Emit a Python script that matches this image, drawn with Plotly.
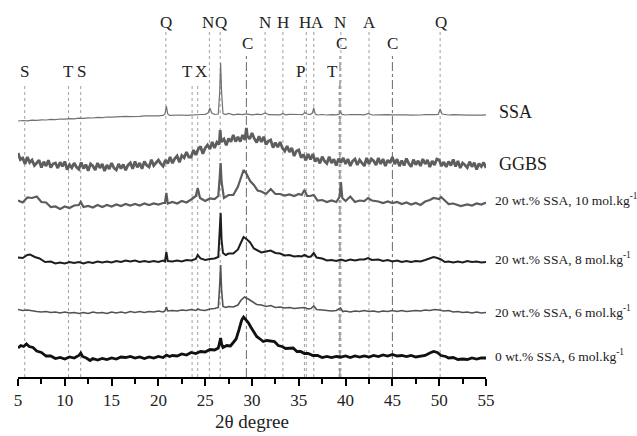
import plotly.graph_objects as go

# ---------------- data (2θ, relative intensity) ----------------
ssa = [(5,1),(5.5,1.5),(6,1.2),(6.5,1.8),(7,1.6),(7.5,2.2),(8,2.0),(8.5,2.6),(9,2.4),(9.5,3),(10,2.8),(10.5,3.4),
       (11,3.2),(11.5,3.8),(12,3.6),(12.5,4.2),(13,4.0),(13.5,4.6),(14,4.4),(14.5,5),(15,4.8),(15.5,5.3),(16,5.1),
       (16.5,5.6),(17,5.4),(17.5,5.9),(18,5.7),(18.5,6.1),(19,5.9),(19.5,6.3),(20,6.1),(20.5,6.6),(20.7,8),(20.85,16),
       (21.0,8),(21.2,6.6),(21.5,6.8),(22,6.5),(22.5,7),(23,6.7),(23.5,7.2),(24,7),(24.5,7.5),(25,7.6),(25.3,9),
       (25.5,14),(25.7,9),(26,7.5),(26.4,8),(26.55,30),(26.65,59),(26.75,30),(26.9,8.5),(27.2,7.5),(27.5,8.5),(28,7.2),
       (28.5,7.8),(29,7.4),(29.4,8.2),(30,7.2),(30.5,7.8),(31,7.3),(31.4,9),(31.8,7.3),(32.5,7.6),(33,7.2),(33.3,8.5),
       (33.6,7.2),(34,7.6),(34.5,7.2),(35,7.5),(35.4,7.4),(35.65,9.5),(35.9,8),(36.2,7.5),(36.45,9),(36.6,14),(36.75,8),
       (37,7),(37.5,7.5),(38,7.0),(38.5,7.4),(39,7.1),(39.3,7.8),(39.45,10),(39.6,7.6),(40,7),(40.5,7.5),(41,7.1),
       (41.5,7.3),(42,7.2),(42.45,8.5),(42.8,7),(43.5,7.3),(44,7),(44.5,7.4),(45,7.1),(45.5,7.3),(46,7),(46.5,7.2),
       (47,6.9),(47.5,7.3),(48,7.0),(48.5,7.3),(49,7.1),(49.5,7.4),(49.9,7.5),(50.1,13),(50.3,8),(50.7,7.2),(51,7),
       (51.5,7.3),(52,6.9),(52.5,7.1),(53,6.8),(53.5,7.0),(54,6.7),(54.5,6.9),(55,7.2)]

ggbs = [(5,19),(5.25,12.5),(5.5,14),(5.75,8),(6,15),(6.25,9.5),(6.5,12),(6.75,6.5),(7,9),(7.25,11.8),(7.5,4.5),(7.75,10.2),
        (8,6),(8.25,11.8),(8.5,4.5),(8.75,8.2),(9,9),(9.25,3.9),(9.5,9.8),(9.75,5.6),(10,10.5),(10.25,2.4),(10.5,7.3),(10.75,4.1),
        (11,9),(11.25,4.9),(11.5,2.8),(11.75,9.6),(12,3.5),(12.25,7.4),(12.5,1.3),(12.75,8.1),(13,6),(13.25,2),(13.5,9),(13.75,4),
        (14,8),(14.25,1),(14.5,7),(14.75,3),(15,9),(15.25,4),(15.5,2),(15.75,8),(16,3.5),(16.25,7.6),(16.5,1.8),(16.75,6.9),
        (17,9),(17.25,3.2),(17.5,10.5),(17.75,4.8),(18,9),(18.25,3.2),(18.5,10.5),(18.75,6.8),(19,5),(19.25,12.2),(19.5,6.5),(19.75,9.8),
        (20,12),(20.25,8.4),(20.5,5.8),(20.75,12.1),(21,8.5),(21.25,15.1),(21.5,8.8),(21.75,13.4),(22,16),(22.25,9.8),(22.5,16.5),(22.75,14.2),
        (23,20),(23.25,15),(23.5,15),(23.75,22),(24,17),(24.25,22.8),(24.5,25.5),(24.75,18.2),(25,24),(25.25,27),(25.5,23),(25.75,30),
        (26,24),(26.25,29.8),(26.5,27.5),(26.6,42),(26.7,30),(27,33),(27.25,26.8),(27.5,33.5),(27.75,30.2),
        (28,37),(28.25,30.5),(28.5,35),(28.75,30.5),(29,37),(29.25,32),(29.4,44),(29.5,36),(29.75,33),
        (30,39),(30.25,33.3),(30.5,29.5),(30.75,35.8),(31,30),(31.25,35.3),(31.5,27.5),(31.75,30.8),(32,32),(32.25,24.3),(32.5,29.5),(32.75,24.8),
        (33,30),(33.25,24),(33.5,21),(33.75,26),(34,20),(34.25,24),(34.5,16),(34.75,21),(35,22),(35.25,14.3),(35.5,17.5),(35.75,11.8),
        (36,18),(36.25,12.5),(36.5,18),(36.75,10.5),(37,14),(37.25,8.6),(37.5,15.3),(37.75,10.9),(38,8.5),(38.25,15.3),(38.5,9),(38.75,12.8),
        (39,6.5),(39.25,13.4),(39.5,9.3),(39.75,14.1),(40,8),(40.25,13),(40.5,6),(40.75,11),(41,13),(41.25,7),(41.5,12),(41.75,9),
        (42,6),(42.25,14),(42.5,8),(42.75,13),(43,11),(43.25,7),(43.5,14),(43.75,8),(44,13),(44.25,6),(44.5,12),(44.75,9),
        (45,14.9),(45.25,7.9),(45.5,12.9),(45.75,5.9),(46,11.5),(46.25,6.5),(46.5,13.5),(46.75,8.5),(47,5.3),(47.25,12.3),(47.5,7.3),(47.75,11.3),
        (48,6),(48.25,13),(48.5,8),(48.75,12),(49,5),(49.25,11),(49.5,7),(49.75,13),(50,12),(50.25,6),(50.5,10),(50.75,5),
        (51,10.5),(51.25,6.5),(51.5,12.5),(51.75,5.5),(52,11),(52.25,4),(52.5,9),(52.75,7),(53,4.3),(53.25,10.3),(53.5,5.3),(53.75,9.3),
        (54,2.5),(54.25,8.5),(54.5,5.5),(54.75,9.5),(55,4)]

ssa20_10 = [(5,11.5),(5.5,9.5),(6,14.5),(6.5,14),(7,15.5),(7.5,10),(8,9.5),(8.5,5),(9,5.5),(9.5,3),(10,5.5),(10.5,4),(11,6.5),
            (11.5,7),(11.7,10),(12,5),(12.5,6),(13,4.5),(13.5,7),(14,5),(14.5,7),(15,5.5),(15.5,7.5),(16,6),(16.5,8),(17,6.5),
            (17.5,8),(18,6.5),(18.5,8.5),(19,7),(19.5,8.5),(20,7.5),(20.5,9),(20.7,9),(20.85,19),(21.0,8.5),(21.5,10),(22,8.5),
            (22.5,11),(23,9.5),(23.5,12.5),(24.0,16),(24.2,24),(24.45,14),(25,11),(25.5,13.5),(26,13),(26.4,16),(26.55,35),
            (26.65,49),(26.75,30),(27,14),(27.5,17),(28,17),(28.5,25.5),(28.8,33),(29.1,42),(29.4,38.5),(29.8,31),(30.2,27),
            (30.6,21.5),(31,20.5),(31.5,18),(32,23),(32.5,18),(33,18),(33.5,16.5),(34,17.5),(34.5,16),(35,18),(35.3,17),(35.6,22),
            (35.9,16),(36.2,16),(36.6,17),(37,11.5),(37.5,12),(38,10),(38.5,11.5),(39,10),(39.35,15),(39.5,30),(39.65,14),(40,11),
            (40.5,15.5),(41,10),(41.5,11.5),(42,11),(42.4,14),(42.8,11.5),(43.5,10.5),(44,9),(44.5,10.5),(45,9),(45.5,10),(46,8),
            (46.5,9.5),(47,7.5),(47.5,9),(48,7),(48.5,10.5),(49,12),(49.4,14),(50,13),(50.2,15),(50.6,11.5),(51,8),(51.5,8.5),
            (52,6.5),(52.3,6),(53,7.5),(53.5,6.5),(54,8.5),(54.5,7.5),(55,9.5)]

ssa20_8 = [(5,7.5),(5.5,7),(6,10),(6.3,10.5),(6.8,8),(7.3,6.5),(7.9,3),(8.5,3.5),(9,1.5),(9.5,2.5),(10,1.5),(10.5,3),(11,2),
           (11.5,3),(12,1.5),(12.5,3),(13,2),(13.5,3.5),(14,2.5),(14.5,3.5),(15,2.5),(15.5,4),(16,3),(16.5,4.5),(17,3.5),(17.5,4.5),
           (18,3),(18.5,4),(19,3),(19.5,4),(20,3),(20.5,4.5),(20.7,3.5),(20.85,13),(21,4),(21.5,3.5),(22,4.5),(22.5,3.5),(23,5),
           (23.5,4.5),(24,6),(24.2,10),(24.5,6.5),(25,5),(25.5,6),(26,6.5),(26.4,8),(26.55,30),(26.65,52),(26.75,25),(26.9,12),
           (27.2,10),(27.5,11.5),(28,11.5),(28.5,15.5),(28.8,22),(29.1,28),(29.4,26),(29.8,22.5),(30.2,16.5),(30.6,14.5),(31,12.5),
           (31.5,13.5),(32,14.5),(32.5,12),(33,11.5),(33.5,9.5),(34,10),(34.5,8.5),(35,9),(35.3,8.5),(35.6,10),(36,8),(36.3,8.5),
           (36.6,12),(36.9,7.5),(37.5,6.5),(38,4.5),(38.5,5),(39,4),(39.5,5.5),(40,4),(40.5,5.5),(41,4.5),(41.5,5.5),(42,5.5),
           (42.4,7),(42.8,5),(43.5,5.5),(44,4),(44.5,5),(45,3.5),(45.5,4.5),(46,3),(46.5,4),(47,3),(47.5,4),(48,3.5),(48.5,5),
           (49,6.5),(49.4,8),(49.8,7),(50.2,5.5),(50.6,3),(51,3.5),(51.5,2.5),(52,3.5),(52.5,2.5),(53,4),(53.5,3),(54,3.5),
           (54.5,2.5),(55,3)]

ssa20_6 = [(5,5.5),(5.5,4.5),(6,5),(6.5,4),(7,3.5),(7.5,3),(8,3.5),(8.5,2.5),(9,3),(9.5,2),(10,3),(10.5,2),(11,2.5),(11.5,1.5),
           (12,2.5),(12.5,1.5),(13,3),(13.5,2),(14,2.5),(14.5,1.5),(15,3),(15.5,2),(16,3),(16.5,2),(17,3.5),(17.5,2.5),(18,3.5),
           (18.5,2.5),(19,3.5),(19.5,3),(20,4),(20.5,3),(20.7,4),(20.85,8),(21,4),(21.5,4.5),(22,4),(22.5,5),(23,4.5),(23.5,5.5),
           (24,4.5),(24.2,6),(24.5,5),(25,4.5),(25.5,6),(26,6.5),(26.4,7.5),(26.55,30),(26.65,50),(26.75,25),(26.9,8.5),(27.2,7.5),
           (27.5,8.5),(28,8),(28.5,10),(28.8,14.5),(29.2,18),(29.6,16),(30,13.5),(30.5,10.5),(31,10),(31.5,8.5),(32,9.5),(32.5,7.5),
           (33,8),(33.5,7),(34,7.5),(34.5,6.5),(35,7),(35.6,7.5),(36,6),(36.3,6.5),(36.6,9),(36.9,5.5),(37.5,5),(38,4.5),(38.5,4),
           (39,4.5),(39.45,7),(39.7,3.5),(40,4),(40.5,3),(41,4),(41.5,3.5),(42,4.5),(42.5,3.5),(43,4),(43.5,3),(44,4),(44.5,3.5),
           (45,4.5),(45.5,3.5),(46,4.5),(46.5,3.5),(47,4),(47.5,4.5),(48,4),(48.5,5),(49,4.5),(49.5,5.5),(50,5),(50.5,4),(51,4.5),
           (51.5,3),(52,3.5),(52.5,2.5),(53,3),(53.5,2),(54,3),(54.5,2),(55,2.5)]

ssa0_6 = [(5,14),(5.3,16.5),(5.6,15.5),(5.9,18),(6.2,15.5),(6.6,14.5),(7,11),(7.5,9.5),(8,6),(8.5,6),(9,3.5),(9.5,4.5),(10,3),
          (10.5,5),(11,4),(11.5,6.5),(11.7,9),(11.9,5.5),(12.3,4),(12.7,1.5),(13,3.5),(13.5,2),(14,3.5),(14.5,2.5),(15,4),(15.5,3),
          (16,5),(16.5,4.5),(17,5.5),(17.5,4),(18,5),(18.5,3.5),(19,5),(19.5,4),(20,5.5),(20.5,4.5),(20.85,7),(21.2,5.5),(21.5,6.5),
          (22,6),(22.5,8),(23,7),(23.5,9.5),(24,8.5),(24.5,10.5),(25,10),(25.5,12.5),(26,12),(26.4,14),(26.55,20),(26.65,24),
          (26.75,18),(26.9,14.5),(27.3,16.5),(27.7,16),(28,19.5),(28.3,23),(28.6,32),(28.9,42),(29.1,45),(29.3,42.5),(29.6,39.5),
          (29.9,34.5),(30.2,30.5),(30.5,25.5),(30.8,23.5),(31.2,20.5),(31.6,21.5),(32,21),(32.4,20.5),(32.8,16.5),(33.2,15.5),
          (33.6,13.5),(34,13.5),(34.4,14),(34.8,10.5),(35.2,10.5),(35.6,8.5),(36,8.5),(36.5,6.5),(37,6.5),(37.5,4.5),(38,5.5),
          (38.5,4.5),(39,5.5),(39.5,5),(40,6),(40.5,4.5),(41,6),(41.5,5),(42,6),(42.5,5),(43,6.5),(43.5,5.5),(44,7),(44.5,6),
          (45,7.5),(45.5,6),(46,6.5),(46.5,5.5),(47,6.5),(47.5,5),(48,6),(48.5,6.5),(49,9),(49.4,10.5),(49.8,9.5),(50.2,6.5),
          (50.7,5.5),(51,4),(51.5,4.5),(52,2.5),(52.5,3),(53,2.5),(53.5,4),(54,3),(54.5,4),(55,4)]

series_names = ["SSA", "GGBS", "20 wt.% SSA, 10 mol.kg<sup>-1</sup>", "20 wt.% SSA, 8 mol.kg<sup>-1</sup>",
                "20 wt.% SSA, 6 mol.kg<sup>-1</sup>", "0 wt.% SSA, 6 mol.kg<sup>-1</sup>"]
series_data = [ssa, ggbs, ssa20_10, ssa20_8, ssa20_6, ssa0_6]
stack_offsets = [255, 205, 165, 112, 62, 15]
label_levels = [265, 213, 178, 119, 66, 22]

# phase reference lines: label, 2θ of line, label row, 2θ of label
phase_labels = ["S", "T", "S", "Q", "T", "X", "N", "Q", "C", "N", "H", "P", "H", "A", "T", "C", "N", "A", "C", "Q"]
phase_lines  = [5.72, 10.4, 11.7, 20.8, 23.6, 24.2, 25.45, 26.6, 29.4, 31.4, 33.3, 35.6, 35.8, 36.6, 39.3, 39.4, 39.5, 42.5, 45.0, 50.1]
phase_rows   = [3, 3, 3, 1, 3, 3, 1, 1, 2, 1, 1, 3, 1, 1, 3, 2, 1, 1, 2, 1]
phase_text_x = [5.73, 10.4, 11.75, 20.76, 23.1, 24.6, 25.35, 26.65, 29.49, 31.44, 33.36, 35.18, 35.7, 36.96, 38.57, 39.53, 39.45, 42.55, 44.98, 50.14]

x_ticks = [5, 10, 15, 20, 25, 30, 35, 40, 45, 50, 55]

# ---------------- styles ----------------
FONT = "'Liberation Serif', 'Times New Roman', Times, serif"
colors = ["#727272", "#5e5e5e", "#5c5c5c", "#1e1e1e", "#525252", "#111111"]
widths = [1.2, 2.8, 2.2, 2.0, 1.6, 2.8]
row_top = {1: 345, 2: 324, 3: 294}
row_label = {1: 355, 2: 334, 3: 306}
X_MIN, X_MAX = 5, 55

fig = go.Figure()
for name, data, off, c, w in zip(series_names, series_data, stack_offsets, colors, widths):
    xs = [p[0] for p in data]
    ys = [p[1] + off for p in data]
    fig.add_trace(go.Scatter(x=xs, y=ys, mode="lines", line=dict(color=c, width=w),
                             name=name, showlegend=False, hoverinfo="skip"))

shapes = []
annotations = []
for lab, xl, row, xt in zip(phase_labels, phase_lines, phase_rows, phase_text_x):
    is_c = lab == "C"
    shapes.append(dict(type="line", xref="x", yref="y", x0=xl, x1=xl, y0=0, y1=row_top[row],
                       line=dict(color="#6a6a6a" if is_c else "#a0a0a0", width=1,
                                 dash="dashdot" if is_c else "dot"), layer="below"))
    annotations.append(dict(x=xt, y=row_label[row], xref="x", yref="y", text=lab, showarrow=False,
                            font=dict(family=FONT, size=17, color="#222"), xanchor="center", yanchor="middle"))

for i, (name, lvl) in enumerate(zip(series_names, label_levels)):
    big = i < 2
    x_lab = 56.2 if big else 55.8
    annotations.append(dict(x=(x_lab - X_MIN) / (X_MAX - X_MIN), y=lvl, xref="paper", yref="y", text=name,
                            showarrow=False, font=dict(family=FONT, size=18 if big else 13.5, color="#1a1a1a"),
                            xanchor="left", yanchor="middle"))

fig.update_layout(
    width=637, height=436,
    margin=dict(l=18, r=151, t=0, b=59),
    paper_bgcolor="white", plot_bgcolor="white",
    shapes=shapes, annotations=annotations,
    xaxis=dict(range=[X_MIN, X_MAX], tickvals=x_ticks, ticks="outside", ticklen=7, tickwidth=1.5, tickcolor="black",
               showline=True, linecolor="black", linewidth=1.5, showgrid=False, zeroline=False,
               tickfont=dict(family=FONT, size=17, color="#222"),
               minor=dict(dtick=2.5, tick0=5, ticks="outside", ticklen=5, tickwidth=1.5, tickcolor="black", showgrid=False),
               title=dict(text="2θ degree", font=dict(family=FONT, size=19, color="#222"), standoff=6)),
    yaxis=dict(range=[0, 377], visible=False),
)

fig.write_html("out.html", config={"displayModeBar": False},
               post_script="document.body.style.margin='0';")
